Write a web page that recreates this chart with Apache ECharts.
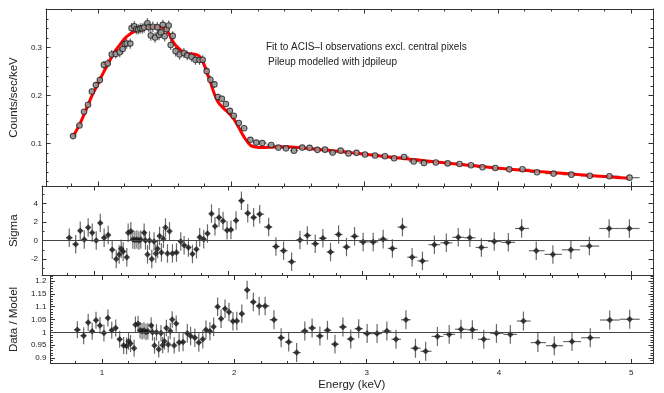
<!DOCTYPE html>
<html><head><meta charset="utf-8">
<script src="https://cdn.jsdelivr.net/npm/echarts@6/dist/echarts.min.js"></script>
<style>html,body{margin:0;padding:0;background:#fff}#c{width:664px;height:393px}</style>
</head><body><div id="c"></div>
<script>
// ---- data ----
const energy = [0.814,0.862,0.896,0.926,0.955,0.985,1.015,1.045,1.074,1.104,
1.134,1.164,1.186,1.201,1.216,1.243,1.253,1.273,1.288,1.303,
1.318,1.333,1.347,1.372,1.382,1.397,1.412,1.429,1.446,1.459,
1.472,1.487,1.501,1.516,1.531,1.546,1.561,1.583,1.613,1.645,
1.670,1.702,1.732,1.762,1.786,1.816,1.844,1.874,1.900,1.930,
1.960,1.990,2.019,2.057,2.097,2.144,2.188,2.233,2.300,2.354,
2.411,2.471,2.533,2.588,2.647,2.704,2.761,2.821,2.880,2.940,
3.004,3.079,3.153,3.222,3.297,3.369,3.446,3.535,3.624,3.713,
3.799,3.885,3.981,4.086,4.185,4.294,4.418,4.552,4.690,4.837,4.988];

const counts = [0.1151,0.1372,0.1661,0.1807,0.2084,0.2218,0.2323,0.2640,0.2671,0.2858,
0.2870,0.2904,0.2974,0.3078,0.3088,0.3086,0.3409,0.3450,0.3387,0.3383,
0.3404,0.3403,0.3424,0.3512,0.3430,0.3255,0.3440,0.3213,0.3430,0.3268,
0.3320,0.3478,0.3240,0.3387,0.3465,0.3056,0.3247,0.2928,0.2857,0.2888,
0.2840,0.2810,0.2746,0.2744,0.2747,0.2510,0.2330,0.2233,0.1969,0.1933,
0.1824,0.1679,0.1576,0.1426,0.1316,0.1073,0.1015,0.1004,0.0965,0.0910,
0.0895,0.0847,0.0910,0.0905,0.0863,0.0867,0.0806,0.0847,0.0789,0.0801,
0.0766,0.0746,0.0729,0.0686,0.0713,0.0619,0.0590,0.0600,0.0580,0.0567,
0.0542,0.0499,0.0483,0.0455,0.0456,0.0396,0.0366,0.0344,0.0321,0.0312,0.0282];

const countsErr = [0.0038,0.0046,0.0053,0.0059,0.0066,0.0071,0.0077,0.0083,0.0087,0.0093,
0.0097,0.0101,0.0104,0.0105,0.0107,0.0109,0.0106,0.0107,0.0108,0.0108,
0.0108,0.0109,0.0109,0.0109,0.0110,0.0110,0.0110,0.0110,0.0110,0.0110,
0.0110,0.0109,0.0109,0.0108,0.0106,0.0103,0.0100,0.0110,0.0107,0.0104,
0.0104,0.0103,0.0103,0.0102,0.0098,0.0090,0.0082,0.0073,0.0067,0.0064,
0.0061,0.0058,0.0054,0.0048,0.0041,0.0035,0.0033,0.0033,0.0034,0.0034,
0.0034,0.0034,0.0033,0.0033,0.0032,0.0032,0.0031,0.0031,0.0030,0.0029,
0.0028,0.0028,0.0027,0.0026,0.0025,0.0024,0.0024,0.0023,0.0022,0.0021,
0.0020,0.0019,0.0018,0.0017,0.0016,0.0015,0.0014,0.0013,0.0012,0.0011,0.0010];

const model = [0.114,0.139,0.160,0.180,0.199,0.216,0.233,0.250,0.265,0.281,
0.295,0.306,0.314,0.319,0.323,0.329,0.331,0.334,0.336,0.337,
0.338,0.340,0.341,0.342,0.343,0.343,0.344,0.344,0.344,0.344,
0.344,0.342,0.340,0.337,0.330,0.322,0.314,0.305,0.297,0.290,
0.288,0.287,0.286,0.282,0.272,0.250,0.228,0.203,0.187,0.177,
0.169,0.161,0.151,0.133,0.113,0.096,0.092,0.091,0.092,0.093,
0.093,0.092,0.0905,0.089,0.0875,0.086,0.0845,0.083,0.081,0.079,
0.077,0.075,0.0725,0.0705,0.068,0.066,0.0637,0.061,0.0585,0.056,
0.0537,0.0513,0.0485,0.0459,0.0437,0.0413,0.0386,0.0357,0.0328,0.0298,0.0268];

const sigma = [0.3,-0.4,1.05,0.1,1.4,0.85,0,1.9,0.3,0.6,
-1.0,-2.0,-1.5,-0.9,-1.2,-1.8,0.85,1.0,0.1,0.05,
0.1,0,0.1,0.85,0,-1.5,0,-2.0,-0.1,-1.4,
-0.9,0.5,-1.3,0.2,1.4,-1.4,1.0,-1.4,-1.3,-0.1,
-0.5,-0.75,-1.45,-0.95,0.35,0.15,0.75,2.9,1.55,2.5,
2.1,1.1,1.15,2.15,4.3,2.95,2.5,2.85,1.45,-0.65,
-1.1,-2.3,0.05,0.55,-0.35,0.25,-1.25,0.65,-0.7,0.45,
-0.15,-0.15,0.15,-0.85,1.45,-1.8,-2.2,-0.45,-0.25,0.35,
0.3,-0.75,-0.1,-0.2,1.3,-1.1,-1.5,-1.0,-0.6,1.3,1.3];

const ratio = [1.010,0.987,1.038,1.004,1.047,1.027,0.997,1.056,1.008,1.017,
0.973,0.949,0.947,0.965,0.956,0.938,1.030,1.033,1.008,1.004,
1.007,1.001,1.004,1.027,1.000,0.949,1.000,0.934,0.997,0.950,
0.965,1.017,0.953,1.005,1.050,0.949,1.034,0.960,0.962,0.996,
0.986,0.979,0.960,0.973,1.010,1.004,1.022,1.100,1.053,1.092,
1.079,1.043,1.044,1.072,1.165,1.118,1.103,1.103,1.049,0.979,
0.962,0.921,1.005,1.017,0.986,1.008,0.954,1.021,0.974,1.014,
0.995,0.995,1.005,0.973,1.049,0.938,0.926,0.984,0.992,1.012,
1.010,0.973,0.996,0.992,1.044,0.960,0.948,0.964,0.979,1.048,1.051];

const ratioErr = [0.033,0.033,0.033,0.033,0.033,0.033,0.033,0.033,0.033,0.033,
0.033,0.033,0.033,0.033,0.033,0.033,0.032,0.032,0.032,0.032,
0.032,0.032,0.032,0.032,0.032,0.032,0.032,0.032,0.032,0.032,
0.032,0.032,0.032,0.032,0.032,0.032,0.032,0.036,0.036,0.036,
0.036,0.036,0.036,0.036,0.036,0.036,0.036,0.036,0.036,0.036,
0.036,0.036,0.036,0.036,0.036,0.036,0.036,0.036,0.037,0.037,
0.037,0.037,0.037,0.037,0.037,0.037,0.037,0.037,0.037,0.037,
0.037,0.037,0.037,0.037,0.037,0.037,0.037,0.037,0.037,0.037,
0.037,0.037,0.037,0.037,0.037,0.037,0.037,0.037,0.037,0.037,0.037];

const SIGMA_ERR = 1; // residuals in units of sigma

const xTicks = [1, 2, 3, 4, 5];
const countsTicks = [0.1, 0.2, 0.3];
const sigmaTicks = [-2, 0, 2, 4];
const ratioTicks = [0.9, 0.95, 1, 1.05, 1.1, 1.15, 1.2];

const annotation1 = 'Fit to ACIS\u2013I observations excl. central pixels';
const annotation2 = 'Pileup modelled with jdpileup';

// ---- axis ranges ----
const X_MIN = 0.611, X_MAX = 5.164;
const Y_RANGES = [[0.0107, 0.381], [-3.78, 5.89], [0.8785, 1.2215]];

function steps(a, b, s) {
  const out = [];
  const n = Math.round((b - a) / s);
  for (let i = 0; i <= n; i++) out.push(+(a + i * s).toFixed(4));
  return out;
}
const xMinor = steps(0.8, 5.0, 0.2);
const yMinor = [steps(0.02, 0.38, 0.02), steps(-3, 5, 1), steps(0.88, 1.22, 0.01)];
const yMajor = [countsTicks, sigmaTicks, ratioTicks];
const yNames = ['Counts/sec/keV', 'Sigma', 'Data / Model'];

// bin edges from neighbouring channel centres
const n = energy.length;
const lo = energy.map((e, i) => i === 0 ? e - (energy[1] - energy[0]) / 2 : (energy[i - 1] + e) / 2);
const hi = energy.map((e, i) => i === n - 1 ? e + (e - energy[n - 2]) / 2 : (energy[i + 1] + e) / 2);

const FONT = '"Liberation Sans", Arial, Helvetica, sans-serif';
const AX = '#333';
const ERR = '#6a6a6a';

const grids = [
  {left: 41, right: 11, top: 9, height: 177},
  {left: 41, right: 11, top: 186, height: 89.5},
  {left: 41, right: 11, top: 275.5, height: 88}
];

const xAxes = [], yAxes = [];
grids.forEach((g, gi) => {
  const last = gi === 2;
  const base = {gridIndex: gi, type: 'value', min: X_MIN, max: X_MAX, splitLine: {show: false}};
  xAxes.push(Object.assign({}, base, {
    position: 'bottom',
    axisLine: {show: true, onZero: false, lineStyle: {color: AX, width: 1}},
    axisTick: {show: true, inside: true, length: 4.5, customValues: xTicks, lineStyle: {color: AX}},
    axisLabel: {show: last, customValues: xTicks, margin: 5, fontSize: 8, color: '#222', fontFamily: FONT,
      formatter: v => String(v)},
    name: last ? 'Energy (keV)' : '', nameLocation: 'middle', nameGap: 15,
    nameTextStyle: {fontSize: 11.5, color: '#222', fontFamily: FONT}
  }));
  xAxes.push(Object.assign({}, base, {
    position: 'bottom', axisLine: {show: false, onZero: false},
    axisTick: {show: true, inside: true, length: 2.5, customValues: xMinor, lineStyle: {color: AX}},
    axisLabel: {show: false}
  }));
  xAxes.push(Object.assign({}, base, {
    position: 'top',
    axisLine: {show: true, onZero: false, lineStyle: {color: AX, width: 1}},
    axisTick: {show: true, inside: true, length: 4.5, customValues: xTicks, lineStyle: {color: AX}},
    axisLabel: {show: false}
  }));
  xAxes.push(Object.assign({}, base, {
    position: 'top', axisLine: {show: false, onZero: false},
    axisTick: {show: true, inside: true, length: 2.5, customValues: xMinor, lineStyle: {color: AX}},
    axisLabel: {show: false}
  }));

  const ybase = {gridIndex: gi, type: 'value', min: Y_RANGES[gi][0], max: Y_RANGES[gi][1], splitLine: {show: false}};
  yAxes.push(Object.assign({}, ybase, {
    position: 'left',
    axisLine: {show: true, onZero: false, lineStyle: {color: AX, width: 1}},
    axisTick: {show: true, inside: true, length: 4.5, customValues: yMajor[gi], lineStyle: {color: AX}},
    axisLabel: {show: true, customValues: yMajor[gi], margin: 4, fontSize: 8, color: '#222', fontFamily: FONT,
      formatter: v => String(v)},
    name: yNames[gi], nameLocation: 'middle', nameRotate: 90, nameGap: 21,
    nameTextStyle: {fontSize: 11.5, color: '#222', fontFamily: FONT}
  }));
  yAxes.push(Object.assign({}, ybase, {
    position: 'left', axisLine: {show: false, onZero: false},
    axisTick: {show: true, inside: true, length: 2.5, customValues: yMinor[gi], lineStyle: {color: AX}},
    axisLabel: {show: false}
  }));
  yAxes.push(Object.assign({}, ybase, {
    position: 'right',
    axisLine: {show: true, onZero: false, lineStyle: {color: AX, width: 1}},
    axisTick: {show: true, inside: true, length: 4.5, customValues: yMajor[gi], lineStyle: {color: AX}},
    axisLabel: {show: false}
  }));
  yAxes.push(Object.assign({}, ybase, {
    position: 'right', axisLine: {show: false, onZero: false},
    axisTick: {show: true, inside: true, length: 2.5, customValues: yMinor[gi], lineStyle: {color: AX}},
    axisLabel: {show: false}
  }));
});

function errorBars(gi, ys, errs) {
  return {
    type: 'custom', xAxisIndex: gi * 4, yAxisIndex: gi * 4, z: 1, silent: true,
    data: energy.map((e, i) => [e, ys[i], lo[i], hi[i], Array.isArray(errs) ? errs[i] : errs]),
    encode: {x: 0, y: 1},
    renderItem: function (params, api) {
      const x = api.value(0), y = api.value(1), l = api.value(2), h = api.value(3), er = api.value(4);
      const a = api.coord([l, y]), b = api.coord([h, y]);
      const c = api.coord([x, y - er]), d = api.coord([x, y + er]);
      const st = {stroke: ERR, lineWidth: 1.2};
      return {type: 'group', children: [
        {type: 'line', shape: {x1: a[0], y1: a[1], x2: b[0], y2: b[1]}, style: st},
        {type: 'line', shape: {x1: c[0], y1: c[1], x2: d[0], y2: d[1]}, style: st}
      ]};
    }
  };
}

function refLine(gi, val) {
  return {
    type: 'line', xAxisIndex: gi * 4, yAxisIndex: gi * 4, data: [], silent: true,
    markLine: {silent: true, symbol: 'none', animation: false, label: {show: false},
      lineStyle: {color: '#444', width: 1, type: 'solid'}, data: [{yAxis: val}]}
  };
}

const series = [
  errorBars(0, counts, countsErr),
  {type: 'line', xAxisIndex: 0, yAxisIndex: 0, z: 2, data: energy.map((e, i) => [e, model[i]]),
    smooth: 0.35, showSymbol: false, symbol: 'none', lineStyle: {color: '#ff0000', width: 3}, silent: true},
  {type: 'scatter', xAxisIndex: 0, yAxisIndex: 0, z: 3, data: energy.map((e, i) => [e, counts[i]]),
    symbol: 'circle', symbolSize: 5.5, itemStyle: {color: '#a0a0a0', borderColor: '#222', borderWidth: 1.1}, silent: true},

  refLine(1, 0),
  errorBars(1, sigma, SIGMA_ERR),
  {type: 'scatter', xAxisIndex: 4, yAxisIndex: 4, z: 3, data: energy.map((e, i) => [e, sigma[i]]),
    symbol: 'diamond', symbolSize: 6.5, itemStyle: {color: '#1a1a1a'}, silent: true},

  refLine(2, 1),
  errorBars(2, ratio, ratioErr),
  {type: 'scatter', xAxisIndex: 8, yAxisIndex: 8, z: 3, data: energy.map((e, i) => [e, ratio[i]]),
    symbol: 'diamond', symbolSize: 6.5, itemStyle: {color: '#1a1a1a'}, silent: true}
];

const chart = echarts.init(document.getElementById('c'), null, {renderer: 'canvas'});
chart.setOption({
  animation: false,
  backgroundColor: '#fff',
  grid: grids,
  xAxis: xAxes,
  yAxis: yAxes,
  series: series,
  graphic: [
    {type: 'text', left: 266, top: 42, silent: true,
      style: {text: annotation1, fontSize: 10, fill: '#222', fontFamily: FONT}},
    {type: 'text', left: 268, top: 57, silent: true,
      style: {text: annotation2, fontSize: 10, fill: '#222', fontFamily: FONT}}
  ]
});
</script></body></html>
